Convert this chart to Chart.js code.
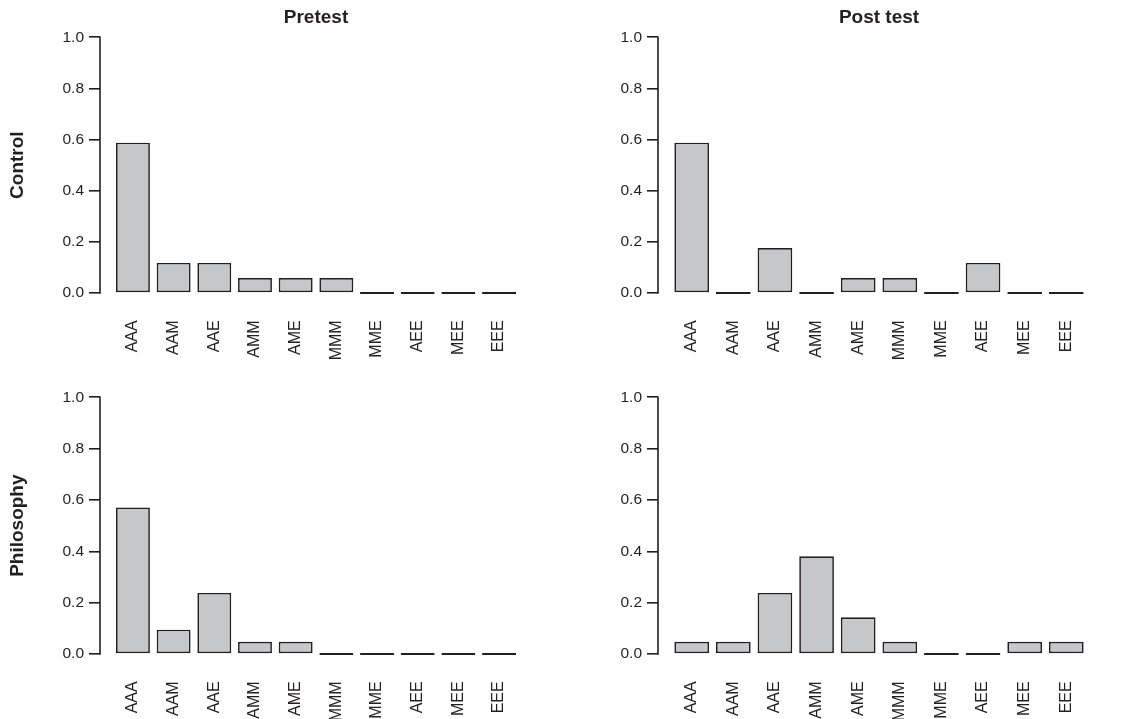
<!DOCTYPE html>
<html>
<head>
<meta charset="utf-8">
<title>Pretest / Post test</title>
<script src="https://cdn.jsdelivr.net/npm/chart.js@4.4.1/dist/chart.umd.min.js"></script>
<style>
  html, body { margin: 0; padding: 0; background: #fff; }
  body { width: 1126px; height: 719px; position: relative; overflow: hidden; }
  .panel { position: absolute; }
</style>
</head>
<body>
<div class="panel" style="left:0;top:0;width:563px;height:360px"><canvas id="ctlPre"></canvas></div>
<div class="panel" style="left:563px;top:0;width:563px;height:360px"><canvas id="ctlPost"></canvas></div>
<div class="panel" style="left:0;top:361px;width:563px;height:358px"><canvas id="phiPre"></canvas></div>
<div class="panel" style="left:563px;top:361px;width:563px;height:358px"><canvas id="phiPost"></canvas></div>
<script>
// categories and proportions
const categories     = ['AAA', 'AAM', 'AAE', 'AMM', 'AME', 'MMM', 'MME', 'AEE', 'MEE', 'EEE'];
const controlPre     = [0.588, 0.118, 0.118, 0.059, 0.059, 0.059, 0, 0, 0, 0];
const controlPost    = [0.588, 0, 0.176, 0, 0.059, 0.059, 0, 0.118, 0, 0];
const philosophyPre  = [0.571, 0.095, 0.238, 0.048, 0.048, 0, 0, 0, 0, 0];
const philosophyPost = [0.048, 0.048, 0.238, 0.381, 0.143, 0.048, 0, 0, 0.048, 0.048];
const yTicks         = [0, 0.2, 0.4, 0.6, 0.8, 1.0];

const INK  = '#231f20';
const FILL = '#c6c7c9';
const FONT = '"Liberation Sans", Arial, sans-serif';

// R barplot geometry: width 1, space 0.2, axis range padded by 4%
const centers = categories.map((_, i) => 0.7 + 1.2 * i);
const xMin = 0.2 - 0.04 * 11.8, xMax = 12 + 0.04 * 11.8;

// R draws the y axis line only between the first and last tick
const rAxisLine = {
  id: 'rAxisLine',
  afterDraw(chart) {
    const y = chart.scales.y, ctx = chart.ctx;
    const x0 = chart.chartArea.left;
    ctx.save();
    ctx.strokeStyle = INK;
    ctx.lineWidth = 1.6;
    ctx.beginPath();
    ctx.moveTo(x0, y.getPixelForValue(yTicks[0]) + 0.8);
    ctx.lineTo(x0, y.getPixelForValue(yTicks[yTicks.length - 1]) - 0.8);
    ctx.stroke();
    ctx.restore();
  }
};

function makePanel(id, values, o) {
  return new Chart(document.getElementById(id), {
    type: 'bar',
    data: {
      datasets: [{
        data: values.map((v, i) => ({ x: centers[i], y: v })),
        backgroundColor: ctx => (ctx.raw && ctx.raw.y === 0 ? INK : FILL),
        borderColor: INK,
        borderWidth: 1.7,
        borderSkipped: false,
        minBarLength: 2,
        categoryPercentage: 1,
        barPercentage: 1 / 1.2,
      }],
    },
    options: {
      responsive: true, maintainAspectRatio: false, animation: false,
      layout: { padding: { left: 0, right: o.padRight, top: o.title ? 0 : 26, bottom: 0 } },
      plugins: {
        legend: { display: false },
        tooltip: { enabled: false },
        title: {
          display: !!o.title,
          fullSize: false,
          text: o.title || '',
          color: INK,
          font: { family: FONT, size: 19, weight: 'bold', lineHeight: 1 },
          padding: { top: 8, bottom: 0 },
        },
      },
      scales: {
        x: {
          type: 'linear', min: xMin, max: xMax, offset: false, bounds: 'data',
          grid: { display: false, drawTicks: false },
          border: { display: false },
          afterBuildTicks: s => { s.ticks = centers.map(v => ({ value: v })); },
          afterFit: s => { s.height = o.xHeight; },
          ticks: {
            autoSkip: false, minRotation: 90, maxRotation: 90, padding: 17,
            color: INK, font: { family: FONT, size: 16 },
            callback: (v, i) => categories[i],
          },
        },
        y: {
          min: -0.04, max: 1.04, bounds: 'data',
          grid: { display: true, drawOnChartArea: false, drawTicks: true, tickLength: 11, color: INK, lineWidth: 1.6 },
          border: { display: false },
          afterBuildTicks: s => { s.ticks = yTicks.map(v => ({ value: v })); },
          afterFit: s => { s.width = o.yWidth; },
          ticks: {
            padding: 5, color: INK, font: { family: FONT, size: 15.5 },
            callback: v => v.toFixed(1),
          },
          title: {
            display: !!o.rowLabel,
            text: o.rowLabel || '',
            color: INK,
            font: { family: FONT, size: 19, weight: 'bold', lineHeight: 1 },
            padding: { top: 8.5, bottom: 0 },
          },
        },
      },
    },
    plugins: [rAxisLine],
  });
}

makePanel('ctlPre',  controlPre,     { title: 'Pretest',   rowLabel: 'Control',    yWidth: 100, padRight: 31, xHeight: 56.7 });
makePanel('ctlPost', controlPost,    { title: 'Post test', rowLabel: null,         yWidth: 95,  padRight: 26, xHeight: 56.7 });
makePanel('phiPre',  philosophyPre,  { title: null,        rowLabel: 'Philosophy', yWidth: 100, padRight: 31, xHeight: 54.7 });
makePanel('phiPost', philosophyPost, { title: null,        rowLabel: null,         yWidth: 95,  padRight: 26, xHeight: 54.7 });
</script>
</body>
</html>
